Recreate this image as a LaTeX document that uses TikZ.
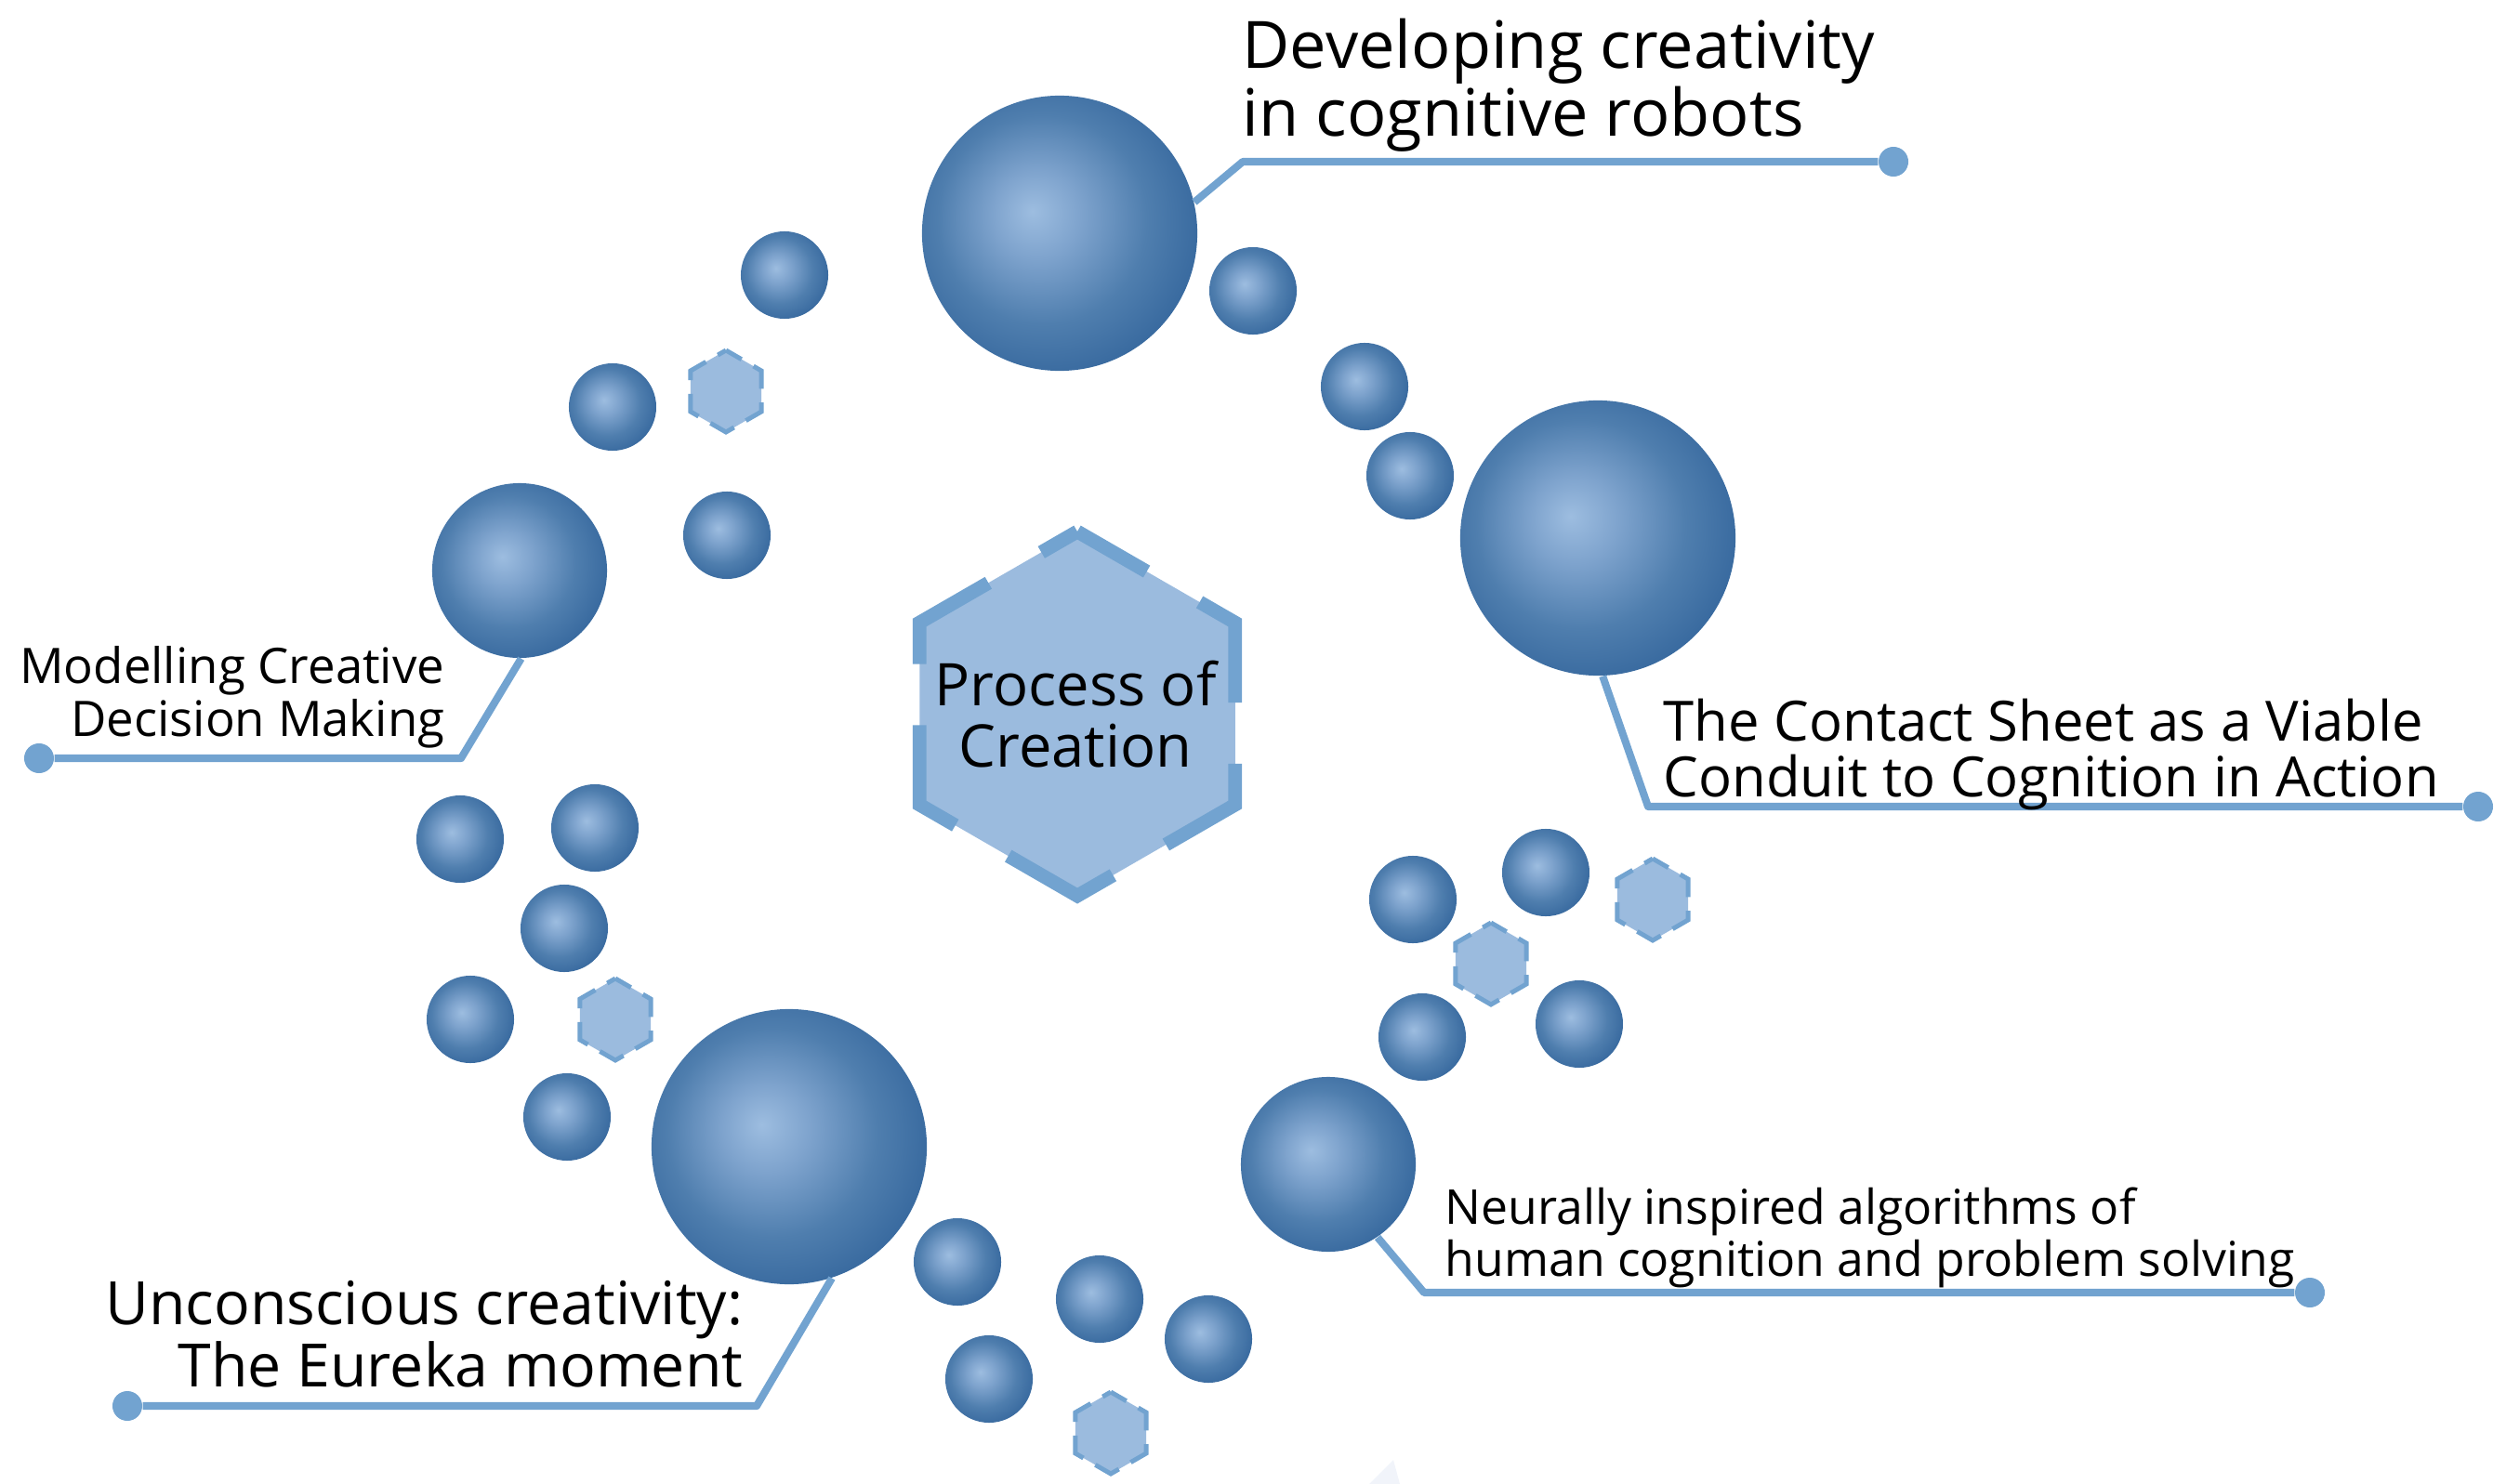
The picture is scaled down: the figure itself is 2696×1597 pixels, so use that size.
\documentclass[tikz,border=0pt]{standalone}
\usepackage{fontspec}
\setmainfont{Open Sans}
\usepackage{tikz}

\definecolor{hexfill}{HTML}{9BBBDE}
\definecolor{hexline}{HTML}{72A3D0}
\definecolor{orbhi}{HTML}{9DBDE0}
\definecolor{orbmid}{HTML}{7EA3CD}
\definecolor{orbrim}{HTML}{4F7EAE}
\definecolor{orbdeep}{HTML}{31639A}
\definecolor{haze}{HTML}{F1F4FA}

% 球のグラデーション (ハイライトは左上)
\pgfdeclareradialshading{orb}{\pgfpoint{-5bp}{4bp}}{%
  color(0bp)=(orbhi); color(8bp)=(orbmid); color(19bp)=(orbrim);
  color(31bp)=(orbdeep); color(50bp)=(orbdeep)}

\begin{document}
\begin{tikzpicture}[x=0.01cm, y=-0.01cm,
    orb/.style={circle, inner sep=0pt, shading=orb},
    bigorb/.style={orb, minimum size=2.96cm},
    midorb/.style={orb, minimum size=1.88cm},
    bead/.style={orb, minimum size=0.94cm},
    cell/.style={fill=hexfill, draw=hexline, line width=1.4pt,
      dash pattern=on 8.3pt off 4.2pt, dash phase=2.8pt},
    link/.style={draw=hexline, line width=2.3pt, line join=round},
    tip/.style={circle, fill=hexline, inner sep=0pt, minimum size=0.32cm},
    blurb/.style={inner sep=0pt}]
    \useasboundingbox (0,0) rectangle (2696,1597);

    % --- 中央: 六角形 ---
    \draw[fill=hexfill, draw=hexline, line width=4.2pt,
      dash pattern=on 37pt off 18.7pt, dash phase=12.5pt, shift={(1159,768)}]
      (270:196) -- (330:196) -- (30:196) -- (90:196) -- (150:196) -- (210:196) -- cycle;
    \node[blurb, align=center, anchor=base, font=\fontsize{18}{18.5}\selectfont]
      (core) at (1157,825) {Process of\\Creation};

    % 小さい六角形
    \foreach \x/\y in {781/421, 662/1097, 1604/1037, 1778/968, 1195/1542}
      \draw[cell, shift={(\x,\y)}]
        (270:44) -- (330:44) -- (30:44) -- (90:44) -- (150:44) -- (210:44) -- cycle;

    % --- 球 ---
    \node[bigorb] (crown) at (1140,251) {};
    \node[bigorb] (sheet) at (1719,579) {};
    \node[bigorb] (eureka) at (849,1234) {};
    \node[midorb] (decide) at (559,614) {};
    \node[midorb] (neural) at (1429,1253) {};

    \foreach \x/\y [count=\i] in {844/296, 659/438, 782/576, 1348/313, 1468/416,
        1517/512, 495/903, 640/891, 607/999, 506/1097, 610/1202, 1520/968,
        1663/939, 1530/1116, 1699/1102, 1030/1358, 1183/1398, 1300/1441, 1064/1484}
      \node[bead] (bead\i) at (\x,\y) {};

    % --- 引き出し線 ---
    \coordinate (crownbend) at (1337,174);
    \node[tip] (crowntip) at (2037,174) {};
    \draw[link] (crown.13) -- (crownbend) -- (crowntip);

    \coordinate (sheetbend) at (1773,868);
    \node[tip] (sheettip) at (2666,868) {};
    \draw[link] (sheet.-88) -- (sheetbend) -- (sheettip);

    \coordinate (decidebend) at (496,816);
    \node[tip] (decidetip) at (42,816) {};
    \draw[link] (decide.-89) -- (decidebend) -- (decidetip);

    \coordinate (eurekabend) at (814,1513);
    \node[tip] (eurekatip) at (137,1513) {};
    \draw[link] (eureka.-72) -- (eurekabend) -- (eurekatip);

    \coordinate (neuralbend) at (1532,1391);
    \node[tip] (neuraltip) at (2485,1391) {};
    \draw[link] (neural.-56) -- (neuralbend) -- (neuraltip);

    % --- テキスト (基準は最終行のベースライン) ---
    \node[blurb, align=left, anchor=base west, font=\fontsize{20}{19.9}\selectfont]
      (crowntext) at (1336,147) {Developing creativity\\in cognitive robots};
    \node[blurb, align=left, anchor=base west, font=\fontsize{17}{16.8}\selectfont]
      (sheettext) at (1789,857) {The Contact Sheet as a Viable\\Conduit to Cognition in Action};
    \node[blurb, align=right, anchor=base east, font=\fontsize{15}{14.5}\selectfont]
      (decidetext) at (479,792) {Modelling Creative\\Decision Making};
    \node[blurb, align=right, anchor=base east, font=\fontsize{18.3}{19}\selectfont]
      (eurekatext) at (800,1492) {Unconscious creativity:\\The Eureka moment};
    \node[blurb, align=left, anchor=base west, font=\fontsize{14.7}{13.7}\selectfont]
      (neuraltext) at (1554,1373) {Neurally inspired algorithms of\\human cognition and problem solving};

    % 下端のうすい影
    \fill[haze] (1473,1597) -- (1499,1571) -- (1506,1597) -- cycle;
\end{tikzpicture}
\end{document}
